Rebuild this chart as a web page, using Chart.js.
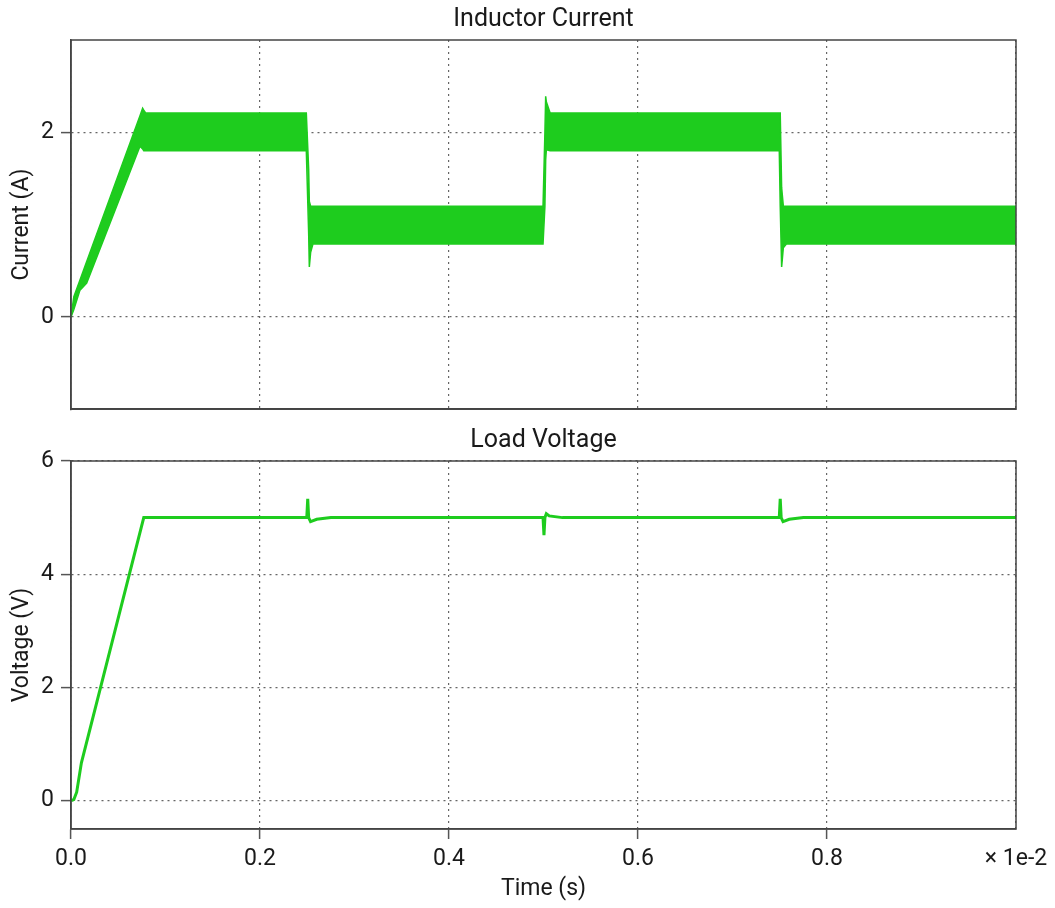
<!DOCTYPE html>
<html lang="en">
<head>
  <meta charset="UTF-8">
  <title>Inductor Current / Load Voltage</title>
  <script src="https://cdn.jsdelivr.net/npm/chart.js"></script>
  <style>
    body { margin: 0; background: #fff; }
    .box { position: absolute; left: 0; width: 1055px; }
    #top { top: 0; height: 430px; }
    #bottom { top: 425px; height: 483px; }
  </style>
</head>
<body>
  <div class="box" id="top"><canvas id="currentChart" width="1055" height="430"></canvas></div>
  <div class="box" id="bottom"><canvas id="voltageChart" width="1055" height="483"></canvas></div>
  <script>
    // time axis in units of 1e-2 s
    const tI = [0, 0.003, 0.0095, 0.0166, 0.073, 0.0758, 0.077, 0.079, 0.249, 0.2495, 0.2515, 0.2522, 0.2536, 0.256,
                0.4995, 0.5015, 0.5023, 0.503, 0.507, 0.7495, 0.7505, 0.752, 0.7538, 0.757, 1.0];
    // ripple envelope of the inductor current (A)
    const iUpper = [0, 0.22, 0.40, 0.60, 2.18, 2.26, 2.24, 2.21, 2.21, 2.21, 1.60, 1.25, 1.20, 1.20,
                    1.20, 2.00, 2.39, 2.33, 2.21, 2.21, 2.21, 1.40, 1.20, 1.20, 1.20];
    const iLower = [0, 0.08, 0.29, 0.366, 1.85, 1.82, 1.80, 1.80, 1.80, 1.80, 0.90, 0.54, 0.70, 0.79,
                    0.79, 1.20, 1.70, 1.81, 1.80, 1.80, 1.20, 0.54, 0.75, 0.79, 0.79];

    const tV = [0, 0.003, 0.006, 0.011, 0.077, 0.079, 0.2495, 0.2505, 0.2515, 0.2535, 0.26, 0.275,
                0.4995, 0.5005, 0.5015, 0.503, 0.506, 0.52, 0.7495, 0.7505, 0.7515, 0.7535, 0.76, 0.775, 1.0];
    const vLoad = [0, 0.02, 0.15, 0.67, 5.0, 5.0, 5.0, 5.33, 5.0, 4.93, 4.97, 5.0,
                   5.0, 4.69, 5.0, 5.07, 5.03, 5.0, 5.0, 5.33, 5.0, 4.93, 4.97, 5.0, 5.0];

    const xTicks = [0, 0.2, 0.4, 0.6, 0.8, 1.0];
    const iTicks = [0, 2];
    const vTicks = [0, 2, 4, 6];

    const green = '#1ecc1e';
    const ink = '#1a1a1a';
    const fontFamily = 'Roboto, "DejaVu Sans", sans-serif';

    const frame = {
      id: 'frame',
      afterDatasetsDraw(chart) {
        const { ctx, chartArea: a } = chart;
        ctx.save();
        ctx.strokeStyle = '#444';
        ctx.lineWidth = 1.5;
        ctx.strokeRect(a.left, a.top, a.right - a.left, a.bottom - a.top);
        ctx.restore();
      }
    };

    const pts = (xs, ys) => xs.map((x, i) => ({ x, y: ys[i] }));

    function gridOpts(noEdgeTick) {
      return {
        color: '#666',
        lineWidth: 1.2,
        tickLength: 10,
        tickWidth: 1.5,
        tickColor: c => (noEdgeTick && c.tick && c.tick.value === 1) ? 'rgba(0,0,0,0)' : '#555'
      };
    }

    function xAxis(showLabels) {
      return {
        type: 'linear',
        min: 0,
        max: 1,
        afterBuildTicks: s => { s.ticks = xTicks.map(v => ({ value: v })); },
        afterFit: s => { s.height = showLabels ? 79 : 0; },
        grid: Object.assign(gridOpts(true), { drawTicks: showLabels }),
        border: { color: '#444', width: 1.5, dash: [2, 4] },
        ticks: {
          display: showLabels,
          autoSkip: false,
          maxRotation: 0,
          padding: 6,
          color: ink,
          font: { family: fontFamily, size: 23 },
          callback: v => v === 1 ? '× 1e-2' : v.toFixed(1)
        },
        title: {
          display: showLabels,
          text: 'Time (s)',
          color: ink,
          font: { family: fontFamily, size: 23 },
          padding: { top: 0, bottom: 5 }
        }
      };
    }

    function yAxis(min, max, ticks, label) {
      return {
        type: 'linear',
        min, max,
        afterBuildTicks: s => { s.ticks = ticks.map(v => ({ value: v })); },
        afterFit: s => { s.width = 71; },
        grid: gridOpts(false),
        border: { color: '#444', width: 1.5, dash: [2, 4] },
        ticks: {
          padding: 7,
          color: ink,
          font: { family: fontFamily, size: 23 },
          callback: v => String(v)
        },
        title: {
          display: true,
          text: label,
          color: ink,
          font: { family: fontFamily, size: 23 },
          padding: { top: 8, bottom: 0 }
        }
      };
    }

    function chartTitle(text, pad) {
      return {
        display: true,
        text,
        fullSize: false,
        color: ink,
        font: { family: fontFamily, size: 25, weight: 'normal' },
        padding: pad
      };
    }

    new Chart(document.getElementById('currentChart'), {
      type: 'line',
      data: {
        datasets: [
          {
            label: 'upper',
            data: pts(tI, iUpper),
            borderColor: green,
            backgroundColor: green,
            borderWidth: 1.5,
            pointRadius: 0,
            fill: '+1'
          },
          {
            label: 'lower',
            data: pts(tI, iLower),
            borderColor: green,
            borderWidth: 1.5,
            pointRadius: 0,
            fill: false
          }
        ]
      },
      options: {
        responsive: false,
        animation: false,
        layout: { padding: { left: 0, right: 39, top: 0, bottom: 0 } },
        plugins: {
          legend: { display: false },
          tooltip: { enabled: false },
          title: chartTitle('Inductor Current', { top: 5, bottom: 5 })
        },
        scales: {
          x: xAxis(false),
          y: yAxis(-1, 3, iTicks, 'Current (A)')
        }
      },
      plugins: [frame]
    });

    new Chart(document.getElementById('voltageChart'), {
      type: 'line',
      data: {
        datasets: [{
          label: 'Load Voltage',
          data: pts(tV, vLoad),
          borderColor: green,
          borderWidth: 3,
          pointRadius: 0,
          fill: false
        }]
      },
      options: {
        responsive: false,
        animation: false,
        layout: { padding: { left: 0, right: 39, top: 0, bottom: 0 } },
        plugins: {
          legend: { display: false },
          tooltip: { enabled: false },
          title: chartTitle('Load Voltage', { top: 1, bottom: 5 })
        },
        scales: {
          x: xAxis(true),
          y: yAxis(-0.5, 6, vTicks, 'Voltage (V)')
        }
      },
      plugins: [frame]
    });
  </script>
</body>
</html>
